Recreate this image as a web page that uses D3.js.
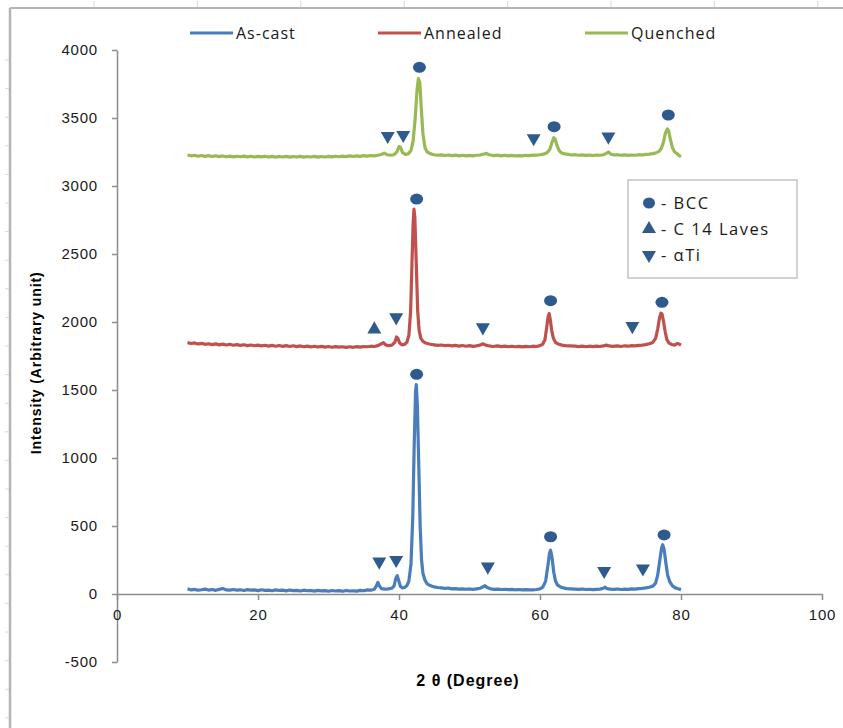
<!DOCTYPE html>
<html>
<head>
<meta charset="utf-8">
<script src="https://cdn.jsdelivr.net/npm/d3@7"></script>
<style>
  body { margin: 0; background: #fff; }
  svg { display: block; }
</style>
</head>
<body>
<div id="chart"></div>
<script>
// XRD patterns, [2θ (deg), intensity]
const asCast = [
  [10,38],[10.5,30],[11,34],[11.5,28],[12,31],[12.5,36],[13,29],[13.5,33],[14,27],[14.5,34],[15,40],[15.5,30],[16,28],[16.5,33],[17,29],[17.5,31],[18,26],[18.5,32],[19,28],[19.5,30],
  [20,25],[20.5,31],[21,27],[21.5,29],[22,24],[22.5,30],[23,26],[23.5,28],[24,23],[24.5,29],[25,25],[25.5,27],[26,22],[26.5,28],[27,24],[27.5,26],[28,21],[28.5,27],[29,23],[29.5,25],
  [30,20],[30.5,26],[31,22],[31.5,25],[32,20],[32.5,26],[33,22],[33.5,24],[34,21],[34.5,27],[35,24],[35.5,30],[36,28],[36.5,35],[36.8,60],[37,85],[37.2,62],[37.5,40],[38,36],[38.5,38],
  [39,42],[39.3,60],[39.55,115],[39.75,135],[39.95,100],[40.2,55],[40.5,45],[40.8,48],[41.1,60],[41.4,95],[41.7,220],[41.95,560],[42.15,1080],[42.35,1490],[42.45,1540],[42.6,1400],[42.8,960],[43.0,500],[43.2,250],[43.4,150],
  [43.7,100],[44,75],[44.5,60],[45,52],[45.5,48],[46,45],[46.5,42],[47,44],[47.5,38],[48,40],[48.5,36],[49,38],[49.5,35],[50,37],[50.5,34],[51,38],[51.5,42],[52,55],[52.2,62],[52.5,48],
  [53,38],[53.5,34],[54,36],[54.5,33],[55,35],[55.5,32],[56,34],[56.5,31],[57,33],[57.5,30],[58,32],[58.5,30],[59,31],[59.5,33],[60,38],[60.4,50],[60.8,95],[61.1,200],[61.35,300],[61.5,322],
  [61.7,270],[61.95,160],[62.2,95],[62.5,65],[62.9,52],[63.3,45],[63.8,40],[64.3,38],[65,36],[65.5,34],[66,37],[66.5,33],[67,35],[67.5,32],[68,34],[68.5,36],[69,42],[69.2,50],[69.5,40],[70,36],
  [70.5,34],[71,37],[71.5,33],[72,36],[72.5,34],[73,38],[73.5,36],[74,40],[74.5,42],[75,45],[75.5,50],[76,58],[76.4,80],[76.7,140],[77,250],[77.25,340],[77.4,362],[77.6,330],[77.85,230],[78.1,140],
  [78.4,90],[78.8,60],[79.2,45],[79.6,38],[80,32]
];
const annealed = [
  [10,1848],[10.5,1842],[11,1846],[11.5,1838],[12,1843],[12.5,1836],[13,1840],[13.5,1834],[14,1839],[14.5,1832],[15,1837],[15.5,1831],[16,1836],[16.5,1829],[17,1834],[17.5,1828],[18,1833],[18.5,1826],[19,1831],[19.5,1825],
  [20,1830],[20.5,1824],[21,1829],[21.5,1823],[22,1828],[22.5,1822],[23,1827],[23.5,1821],[24,1826],[24.5,1820],[25,1825],[25.5,1819],[26,1824],[26.5,1818],[27,1823],[27.5,1817],[28,1822],[28.5,1816],[29,1821],[29.5,1815],
  [30,1820],[30.5,1814],[31,1819],[31.5,1815],[32,1818],[32.5,1813],[33,1818],[33.5,1814],[34,1819],[34.5,1815],[35,1820],[35.5,1818],[36,1822],[36.5,1820],[37,1826],[37.5,1840],[37.8,1848],[38.1,1832],[38.5,1826],[39,1830],
  [39.4,1850],[39.65,1890],[39.85,1880],[40.1,1845],[40.4,1832],[40.8,1836],[41.1,1850],[41.4,1900],[41.65,2080],[41.85,2450],[42.0,2720],[42.12,2830],[42.25,2770],[42.45,2430],[42.65,2080],[42.85,1940],[43.1,1880],[43.4,1858],[43.8,1845],[44.3,1838],
  [45,1832],[45.5,1828],[46,1831],[46.5,1826],[47,1829],[47.5,1824],[48,1828],[48.5,1823],[49,1827],[49.5,1822],[50,1826],[50.5,1821],[51,1825],[51.5,1830],[51.9,1840],[52.3,1830],[52.8,1824],[53.3,1820],[54,1824],[54.5,1819],
  [55,1823],[55.5,1818],[56,1822],[56.5,1818],[57,1821],[57.5,1817],[58,1821],[58.5,1818],[59,1822],[59.5,1820],[60,1826],[60.4,1838],[60.7,1870],[60.95,1960],[61.15,2040],[61.3,2062],[61.45,2020],[61.65,1940],[61.9,1880],[62.2,1850],
  [62.6,1838],[63.1,1830],[63.6,1826],[64.2,1824],[65,1822],[65.5,1819],[66,1823],[66.5,1818],[67,1822],[67.5,1819],[68,1823],[68.5,1820],[69,1824],[69.4,1830],[69.8,1824],[70.3,1821],[71,1824],[71.5,1820],[72,1825],[72.5,1822],
  [73,1826],[73.5,1824],[74,1828],[74.5,1830],[75,1834],[75.5,1840],[76,1850],[76.4,1880],[76.7,1950],[76.95,2030],[77.15,2065],[77.3,2060],[77.5,2010],[77.75,1930],[78.0,1870],[78.3,1845],[78.7,1835],[79.1,1830],[79.5,1842],[79.8,1836],
  [80,1830]
];
const quenched = [
  [10,3228],[10.5,3222],[11,3226],[11.5,3219],[12,3224],[12.5,3218],[13,3223],[13.5,3217],[14,3222],[14.5,3216],[15,3221],[15.5,3215],[16,3220],[16.5,3214],[17,3219],[17.5,3215],[18,3220],[18.5,3214],[19,3219],[19.5,3213],
  [20,3218],[20.5,3214],[21,3219],[21.5,3213],[22,3218],[22.5,3212],[23,3217],[23.5,3213],[24,3218],[24.5,3212],[25,3217],[25.5,3213],[26,3218],[26.5,3212],[27,3217],[27.5,3213],[28,3218],[28.5,3212],[29,3217],[29.5,3213],
  [30,3218],[30.5,3214],[31,3219],[31.5,3215],[32,3220],[32.5,3216],[33,3221],[33.5,3217],[34,3222],[34.5,3218],[35,3223],[35.5,3220],[36,3224],[36.5,3221],[37,3226],[37.5,3232],[37.9,3242],[38.3,3230],[38.8,3226],[39.3,3230],
  [39.7,3250],[40.0,3290],[40.2,3285],[40.5,3245],[40.9,3232],[41.3,3236],[41.7,3260],[42.0,3330],[42.3,3500],[42.55,3700],[42.75,3790],[42.95,3760],[43.15,3580],[43.4,3380],[43.7,3280],[44.0,3250],[44.5,3236],[45,3230],[45.5,3226],[46,3229],
  [46.5,3224],[47,3228],[47.5,3223],[48,3227],[48.5,3222],[49,3226],[49.5,3221],[50,3225],[50.5,3222],[51,3226],[51.5,3228],[52,3234],[52.4,3240],[52.8,3230],[53.3,3224],[54,3227],[54.5,3222],[55,3226],[55.5,3221],[56,3225],
  [56.5,3221],[57,3224],[57.5,3222],[58,3226],[58.5,3223],[59,3227],[59.5,3226],[60,3230],[60.5,3234],[61,3244],[61.4,3270],[61.7,3320],[61.95,3355],[62.15,3345],[62.4,3300],[62.7,3262],[63.0,3245],[63.5,3236],[64,3232],[64.5,3228],
  [65,3230],[65.5,3226],[66,3229],[66.5,3225],[67,3228],[67.5,3224],[68,3228],[68.5,3226],[69,3230],[69.4,3240],[69.7,3250],[70.0,3236],[70.5,3228],[71,3230],[71.5,3226],[72,3229],[72.5,3225],[73,3228],[73.5,3226],[74,3230],
  [74.5,3228],[75,3232],[75.5,3234],[76,3238],[76.5,3245],[76.9,3255],[77.2,3275],[77.5,3320],[77.8,3390],[78.05,3420],[78.25,3405],[78.5,3340],[78.8,3280],[79.1,3250],[79.4,3240],[79.7,3225],[80,3215]
];

// phase markers, [2θ, height where the marker sits]
const bccPeaks = [[42.5,1615],[61.5,421],[77.6,434],[42.5,2904],[61.5,2157],[77.3,2145],[42.9,3873],[62.0,3436],[78.2,3522]];
const lavesPeaks = [[36.5,1946]];
const alphaTiPeaks = [[37.2,238],[39.6,250],[52.6,201],[69.1,169],[74.6,188],
                      [39.6,2034],[51.9,1961],[73.1,1970],
                      [38.4,3368],[40.6,3375],[59.1,3351],[69.7,3363]];

const seriesNames = ["As-cast", "Annealed", "Quenched"];
const seriesColors = ["#4a7ebb", "#c0504d", "#98b954"];
const phaseNames = ["- BCC", "- C 14 Laves", "- \u03b1Ti"];
const xTicks = [0, 20, 40, 60, 80, 100];
const yTicks = [-500, 0, 500, 1000, 1500, 2000, 2500, 3000, 3500, 4000];

const width = 843, height = 728;
const markColor = "#2e5b8e";
const axisColor = "#8c8c8c";

const x = d3.scaleLinear().domain([0, 100]).range([117, 822]);
const y = d3.scaleLinear().domain([-500, 4000]).range([662, 50]);

const svg = d3.select("#chart").append("svg")
  .attr("width", width)
  .attr("height", height)
  .style("font-family", "'DejaVu Sans', Verdana, sans-serif");

// sheet frame with ruler ticks
const frame = svg.append("g").attr("stroke", "#b4b4b4").attr("fill", "none");
frame.append("line").attr("x1", 10).attr("x2", 10).attr("y1", 8).attr("y2", height).attr("stroke-width", 2.5);
frame.append("line").attr("x1", 10).attr("x2", width).attr("y1", 8).attr("y2", 8).attr("stroke-width", 2);
frame.selectAll(".rt").data(d3.range(94, width, 103.4)).join("line")
  .attr("x1", d => d).attr("x2", d => d).attr("y1", 1).attr("y2", 7).attr("stroke", "#d8d8d8");
frame.selectAll(".lt").data(d3.range(60, height, 28.6)).join("line")
  .attr("y1", d => d).attr("y2", d => d).attr("x1", 5).attr("x2", 9).attr("stroke", "#d8d8d8");

// axes
const plain = d => String(d);
const yAxis = svg.append("g")
  .attr("transform", `translate(${x(0)},0)`)
  .call(d3.axisLeft(y).tickValues(yTicks).tickFormat(plain).tickSize(5).tickSizeOuter(0).tickPadding(14));
const xAxis = svg.append("g")
  .attr("transform", `translate(0,${y(0)})`)
  .call(d3.axisBottom(x).tickValues(xTicks).tickFormat(plain).tickSize(6).tickSizeOuter(0).tickPadding(9));
[yAxis, xAxis].forEach(g => {
  g.select(".domain").attr("stroke", axisColor).attr("stroke-width", 1.5);
  g.selectAll(".tick line").attr("stroke", axisColor).attr("stroke-width", 1.5);
  g.selectAll(".tick text").attr("fill", "#1a1a1a")
    .style("font-size", "15px").style("letter-spacing", "0.8px");
});

// axis titles
svg.append("text")
  .attr("transform", `translate(41,${y(1700)}) rotate(-90)`)
  .attr("text-anchor", "middle")
  .style("font-size", "14px").style("font-weight", "bold").style("letter-spacing", "0.9px")
  .style("font-family", "'Liberation Sans', Arial, sans-serif")
  .text("Intensity (Arbitrary unit)");
svg.append("text")
  .attr("x", 468).attr("y", 686)
  .attr("text-anchor", "middle")
  .style("font-size", "16px").style("font-weight", "bold").style("letter-spacing", "1px")
  .style("font-family", "'Liberation Sans', Arial, sans-serif")
  .text("2 \u03b8 (Degree)");

// pattern lines
const line = d3.line().x(d => x(d[0])).y(d => y(d[1]));
[asCast, annealed, quenched].forEach((s, i) => {
  svg.append("path")
    .datum(s)
    .attr("fill", "none")
    .attr("stroke", seriesColors[i])
    .attr("stroke-width", 3.2)
    .attr("stroke-linejoin", "round")
    .attr("d", line);
});

// phase markers
const marks = svg.append("g").attr("fill", markColor);
marks.selectAll(".bcc").data(bccPeaks).join("ellipse")
  .attr("cx", d => x(d[0])).attr("cy", d => y(d[1])).attr("rx", 6.5).attr("ry", 5.5);
const tri = d3.symbol().type(d3.symbolTriangle).size(85);
marks.selectAll(".laves").data(lavesPeaks).join("path")
  .attr("transform", d => `translate(${x(d[0])},${y(d[1])})`).attr("d", tri);
marks.selectAll(".ati").data(alphaTiPeaks).join("path")
  .attr("transform", d => `translate(${x(d[0])},${y(d[1])}) rotate(180)`).attr("d", tri);

// series legend
const legendX = [190, 378, 585];
const leg = svg.append("g").style("font-family", "'Open Sans', sans-serif")
  .style("font-size", "16px").style("letter-spacing", "1px");
seriesNames.forEach((name, i) => {
  leg.append("line").attr("x1", legendX[i]).attr("x2", legendX[i] + 43).attr("y1", 33).attr("y2", 33)
    .attr("stroke", seriesColors[i]).attr("stroke-width", 3);
  leg.append("text").attr("x", legendX[i] + 46).attr("y", 39).attr("fill", "#1a1a1a").text(name);
});

// phase legend box
const box = svg.append("g").attr("transform", "translate(628,180)");
box.append("rect").attr("width", 169).attr("height", 98).attr("fill", "#fff").attr("stroke", "#b4b4b4").attr("stroke-width", 1.2);
const rows = box.selectAll(".row").data(phaseNames).join("g")
  .attr("transform", (d, i) => `translate(21,${23 + i * 26})`);
rows.each(function(d, i) {
  const g = d3.select(this);
  if (i === 0) g.append("ellipse").attr("rx", 6).attr("ry", 5.5).attr("fill", markColor);
  else g.append("path").attr("d", tri).attr("fill", markColor)
    .attr("transform", i === 2 ? "rotate(180)" : null);
});
rows.append("text").attr("x", 12).attr("y", 6)
  .style("font-family", "'Open Sans', sans-serif").style("font-size", "16.5px").style("letter-spacing", "1.5px")
  .attr("fill", "#1a1a1a")
  .text(d => d);
</script>
</body>
</html>
